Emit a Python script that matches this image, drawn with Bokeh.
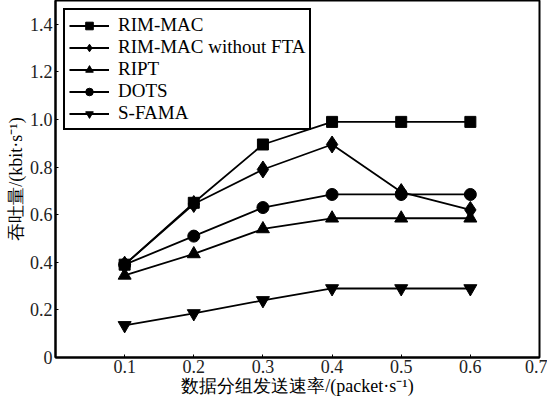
from bokeh.plotting import figure
from bokeh.models import Legend, LegendItem, FixedTicker, Range1d
from bokeh.embed import file_html
from bokeh.resources import INLINE

x = [0.1, 0.2, 0.3, 0.4, 0.5, 0.6]
rim_mac = [0.39, 0.65, 0.895, 0.99, 0.99, 0.99]
rim_mac_no_fta = [0.39, 0.645, 0.79, 0.895, 0.695, 0.62]
ript = [0.345, 0.435, 0.54, 0.585, 0.585, 0.585]
dots = [0.39, 0.51, 0.63, 0.685, 0.685, 0.685]
sfama = [0.135, 0.185, 0.24, 0.29, 0.29, 0.29]

names = ["RIM-MAC", "RIM-MAC without FTA", "RIPT", "DOTS", "S-FAMA"]
series = [rim_mac, rim_mac_no_fta, ript, dots, sfama]
markers = ["square", "diamond", "triangle", "circle", "inverted_triangle"]
sizes = [11, 17, 13, 12, 13]

xticks = [0.1, 0.2, 0.3, 0.4, 0.5, 0.6, 0.7]
yticks = [0, 0.2, 0.4, 0.6, 0.8, 1.0, 1.2, 1.4]

FONT = "Liberation Serif"

p = figure(width=547, height=398, output_backend="svg", toolbar_location=None,
           x_range=Range1d(0, 0.7), y_range=Range1d(0, 1.5),
           min_border_left=55, min_border_right=8, min_border_top=0, min_border_bottom=0)

p.xgrid.visible = False
p.ygrid.visible = False
p.outline_line_color = "black"
p.outline_line_width = 2
p.outline_line_alpha = 1
p.background_fill_color = "white"

items = []
for name, ys, m, s in zip(names, series, markers, sizes):
    l = p.line(x, ys, line_color="black", line_width=1.8)
    sc = p.scatter(x, ys, marker=m, size=s, fill_color="black", line_color="black")
    items.append(LegendItem(label=name, renderers=[l, sc]))

legend = Legend(items=items, location="top_left")
legend.label_text_font = FONT
legend.label_text_font_size = "19px"
legend.label_text_color = "black"
legend.border_line_color = "black"
legend.border_line_alpha = 1
legend.border_line_width = 2
legend.background_fill_alpha = 1
legend.glyph_width = 40
legend.glyph_height = 19
legend.label_height = 19
legend.spacing = 0
legend.padding = 4
legend.margin = 8
legend.label_standoff = 9
p.add_layout(legend)

for ax in [p.xaxis[0], p.yaxis[0]]:
    ax.axis_line_width = 2
    ax.axis_line_color = "black"
    ax.major_tick_in = 3
    ax.major_tick_out = 0
    ax.minor_tick_in = 0
    ax.minor_tick_out = 0
    ax.major_tick_line_color = "black"
    ax.major_label_text_font = FONT
    ax.major_label_text_font_size = "18px"
    ax.major_label_text_color = "#222222"
    ax.axis_label_text_font = FONT
    ax.axis_label_text_font_size = "18px"
    ax.axis_label_text_font_style = "normal"
    ax.axis_label_text_color = "black"

p.xaxis.ticker = FixedTicker(ticks=xticks)
p.yaxis.ticker = FixedTicker(ticks=yticks)
p.xaxis.major_label_overrides = {t: f"{t:.1f}" for t in xticks}
p.yaxis.major_label_overrides = {t: ("0" if t == 0 else f"{t:.1f}") for t in yticks}
p.xaxis.axis_label = "数据分组发送速率/(packet·s⁻¹)"
p.yaxis.axis_label = "吞吐量/(kbit·s⁻¹)"
p.xaxis.major_label_standoff = 2
p.yaxis.major_label_standoff = 3
p.xaxis.axis_label_standoff = 0
p.yaxis.axis_label_standoff = 1

open("out.html", "w").write(file_html(p, INLINE))
